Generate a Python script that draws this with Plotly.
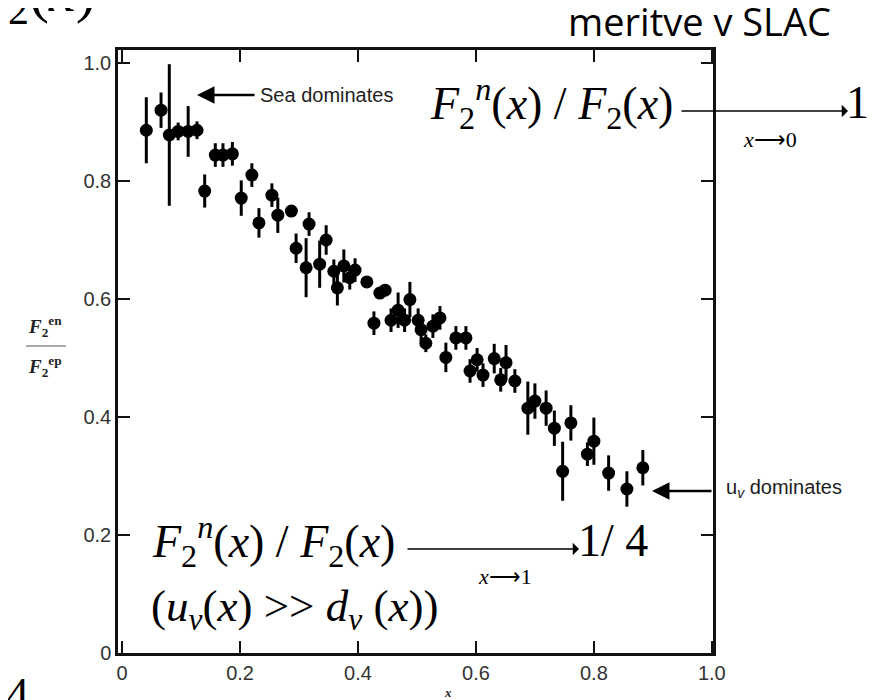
import plotly.graph_objects as go

# ---- data ----
x_vals = [0.041, 0.066, 0.080, 0.095, 0.112, 0.127, 0.140, 0.158, 0.171, 0.187,
          0.202, 0.220, 0.232, 0.254, 0.264, 0.287, 0.295, 0.312, 0.317, 0.335,
          0.346, 0.359, 0.365, 0.376, 0.386, 0.395, 0.415, 0.427, 0.437, 0.446,
          0.456, 0.468, 0.479, 0.488, 0.502, 0.507, 0.515, 0.527, 0.539, 0.549,
          0.566, 0.583, 0.590, 0.602, 0.612, 0.631, 0.642, 0.651, 0.666, 0.688,
          0.700, 0.719, 0.733, 0.747, 0.761, 0.789, 0.800, 0.825, 0.856, 0.883]
ratio_vals = [0.886, 0.920, 0.878, 0.884, 0.884, 0.886, 0.783, 0.844, 0.844, 0.846,
              0.771, 0.810, 0.729, 0.776, 0.742, 0.749, 0.686, 0.653, 0.727, 0.659,
              0.700, 0.647, 0.619, 0.656, 0.636, 0.649, 0.629, 0.559, 0.610, 0.615,
              0.564, 0.581, 0.564, 0.599, 0.564, 0.548, 0.525, 0.554, 0.568, 0.501,
              0.534, 0.534, 0.478, 0.497, 0.471, 0.499, 0.463, 0.492, 0.461, 0.415,
              0.427, 0.415, 0.381, 0.308, 0.390, 0.337, 0.359, 0.305, 0.278, 0.314]
err_vals = [0.056, 0.030, 0.120, 0.015, 0.043, 0.015, 0.028, 0.020, 0.020, 0.020,
            0.030, 0.020, 0.025, 0.020, 0.030, 0.010, 0.025, 0.050, 0.020, 0.040,
            0.025, 0.020, 0.030, 0.028, 0.020, 0.020, 0.010, 0.020, 0.010, 0.010,
            0.020, 0.030, 0.020, 0.030, 0.020, 0.020, 0.015, 0.020, 0.020, 0.025,
            0.020, 0.020, 0.020, 0.020, 0.020, 0.025, 0.020, 0.030, 0.020, 0.045,
            0.030, 0.030, 0.030, 0.050, 0.030, 0.020, 0.040, 0.030, 0.030, 0.030]
tick_vals = [0, 0.2, 0.4, 0.6, 0.8, 1.0]
tick_text = ["0", "0.2", "0.4", "0.6", "0.8", "1.0"]

W, H = 877, 700
L, R, T, B = 110, 172, 42, 55
PW, PH = W - L - R, H - T - B


def px(xp):
    return (xp - L) / PW


def py(yp):
    return (H - B - yp) / PH


fig = go.Figure()
fig.add_trace(go.Scatter(
    x=x_vals, y=ratio_vals, mode="markers",
    marker=dict(color="black", size=13, symbol="circle"),
    error_y=dict(type="data", array=err_vals, visible=True,
                 color="black", thickness=3, width=0),
    showlegend=False, hoverinfo="x+y"))

axis_common = dict(
    showline=True, linecolor="#111", linewidth=2.5, mirror="ticks",
    ticks="inside", ticklen=12, tickwidth=2.2, tickcolor="#111",
    showgrid=False, zeroline=False,
    tickvals=tick_vals, ticktext=tick_text,
    tickfont=dict(family="Liberation Sans, Arial", size=20, color="#333"),
)
fig.update_xaxes(range=[-0.007, 1.002], **axis_common)
fig.update_yaxes(range=[0, PH / 590.0], **axis_common)

serif = "Liberation Serif, Times New Roman, serif"
sans = "Liberation Sans, Arial, sans-serif"
ann = []


def txt(x, y, text, size, family=serif, color="black", xanchor="left",
        yanchor="middle"):
    ann.append(dict(x=px(x), y=py(y), xref="paper", yref="paper", text=text,
                    showarrow=False, xanchor=xanchor, yanchor=yanchor,
                    font=dict(family=family, size=size, color=color)))


def arrow(xh, yh, xt, yt, width, head, size):
    ann.append(dict(x=px(xh), y=py(yh), xref="paper", yref="paper",
                    ax=xt - xh, ay=yt - yh, text="", showarrow=True,
                    arrowhead=head, arrowwidth=width, arrowsize=size,
                    arrowcolor="black"))


# scanned-plot labels
txt(250, 87, "Sea dominates", 20, sans, "#222")
arrow(189, 87, 248, 87, 2.5, 2, 1.4)
txt(716, 480, "u<sub><i>v</i></sub> dominates", 20, sans, "#222")
arrow(644, 483, 705, 483, 2.5, 2, 1.4)
txt(440, 684, "<b><i>x</i></b>", 13, serif, "#222", xanchor="center")
txt(37, 318, "<b><i>F</i><sub>2</sub><sup>en</sup></b>", 19, serif, "#222",
    xanchor="center")
txt(37, 358, "<b><i>F</i><sub>2</sub><sup>ep</sup></b>", 19, serif, "#222",
    xanchor="center")

# slide overlay texts
txt(558, 13, "meritve v SLAC", 38, "Open Sans, Liberation Sans", "black")
txt(-2, 27, "<sub>2</sub>(<i>x</i>)", 60, serif, yanchor="bottom")
txt(-4, 659, "4", 46, serif, yanchor="top")

txt(420, 95, "<i>F</i><sub>2</sub><sup><i>n</i></sup>(<i>x</i>) / <i>F</i><sub>2</sub>(<i>x</i>)", 46)
arrow(840, 103, 672, 103, 1.3, 1, 1.6)
txt(836, 94, "1", 46)
txt(733, 131, "<i>x</i>⟶0", 22)

txt(142, 533, "<i>F</i><sub>2</sub><sup><i>n</i></sup>(<i>x</i>) / <i>F</i><sub>2</sub>(<i>x</i>)", 46)
arrow(571, 541, 398, 541, 1.3, 1, 1.6)
txt(568, 532, "1/ 4", 46)
txt(468, 568, "<i>x</i>⟶1", 22)

txt(141, 601, "(<i>u</i><sub><i>v</i></sub>(<i>x</i>) &gt;&gt; <i>d</i><sub><i>v</i></sub> (<i>x</i>))", 45)

fig.update_layout(
    width=W, height=H, margin=dict(l=L, r=R, t=T, b=B),
    paper_bgcolor="white", plot_bgcolor="white",
    annotations=ann,
    shapes=[dict(type="line", xref="paper", yref="paper",
                 x0=px(18), x1=px(58), y0=py(338), y1=py(338),
                 line=dict(color="#555", width=1))],
)

fig.write_html("out.html")
